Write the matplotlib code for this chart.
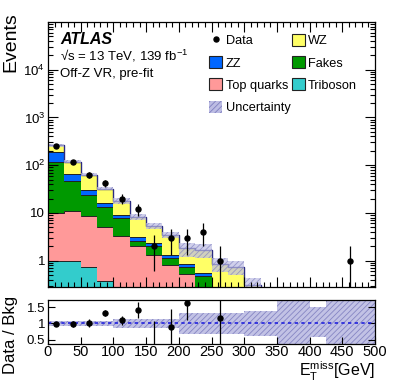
import numpy as np
import matplotlib
matplotlib.use("Agg")
import matplotlib.pyplot as plt
from matplotlib.patches import Patch
from matplotlib.lines import Line2D
from matplotlib.ticker import FixedLocator, LogLocator, FuncFormatter, NullFormatter, MultipleLocator

plt.rcParams['font.family'] = ['Liberation Sans', 'DejaVu Sans']
plt.rcParams['mathtext.fontset'] = 'custom'
plt.rcParams['mathtext.rm'] = 'Liberation Sans'
plt.rcParams['mathtext.it'] = 'Liberation Sans:italic'
plt.rcParams['hatch.linewidth'] = 0.6

# binning in MET (GeV)
edges = np.arange(0, 525, 25)

# per-process yields
triboson = [1.0, 1.0, 0.75, 0.38, 0, 0, 0, 0, 0, 0, 0, 0, 0, 0, 0, 0, 0, 0, 0, 0]
top_quarks = [9.0, 10.2, 8.05, 4.8, 3.3, 2.06, 1.34, 0.79, 0.53, 0, 0, 0, 0, 0, 0, 0, 0, 0, 0, 0]
fakes = [105, 36.3, 15.4, 7.9, 4.4, 0.54, 0.66, 0.35, 0.19, 0.47, 0, 0, 0, 0, 0, 0, 0, 0, 0, 0]
zz = [71, 18.5, 6.2, 2.8, 1.4, 0.6, 0.35, 0.2, 0.13, 0.07, 0, 0, 0, 0, 0, 0, 0, 0, 0, 0]
wz = [74, 52, 33.1, 16.1, 8.9, 5.1, 3.05, 2.16, 0.95, 1.12, 0.86, 0.74, 0.31, 0, 0, 0, 0, 0, 0, 0]

# observed data
data = [255, 118, 63, 42, 20, 12, 2, 3, 3, 4, 1, 0, 0, 0, 0, 0, 0, 0, 1, 0]
data_err = [16, 10.9, 7.9, 6.5, 4.5, 3.5, 1.4, 1.7, 1.7, 2.0, 0.999, 0, 0, 0, 0, 0, 0, 0, 0.999, 0]

# relative background uncertainty (up / down)
rel_up = [0.07, 0.07, 0.07, 0.07, 0.13, 0.13, 0.15, 0.15, 0.33, 0.33, 0.33, 0.33, 0.38, 0.38, 5, 5, 0.5, 5, 5, 5]
rel_dn = [0.07, 0.07, 0.07, 0.07, 0.13, 0.13, 0.15, 0.15, 0.33, 0.33, 0.33, 0.33, 0.38, 0.38, 5, 5, 0.42, 5, 5, 5]

# data / bkg ratio as shown in the lower panel
ratio = [0.98, 0.99, 1.01, 1.32, 1.10, 1.42, 0.2, 0.88, 1.64, np.nan, 1.16,
         np.nan, np.nan, np.nan, np.nan, np.nan, np.nan, np.nan, np.nan, np.nan]
ratio_lo = [0.06, 0.09, 0.12, 0.08, 0.14, 0.25, 0.0, 0.56, 0.54, 0, 1.16, 0, 0, 0, 0, 0, 0, 0, 0, 0]
ratio_hi = [0.06, 0.09, 0.12, 0.08, 0.14, 0.25, 0.87, 0.56, 0.54, 0, 1.16, 0, 0, 0, 0, 0, 0, 0, 0, 0]

procs = [("Triboson", triboson, "#33cccc"),
         ("Top quarks", top_quarks, "#ff9999"),
         ("Fakes", fakes, "#009900"),
         ("ZZ", zz, "#0066ff"),
         ("WZ", wz, "#ffff66")]

band_fc = "#bcbce3"
band_ec = "#7f7fc0"

W, H = 399, 385
fig = plt.figure(figsize=(W / 100, H / 100), dpi=100)
ax = fig.add_axes([48 / W, 1 - 287 / H, 327 / W, 265 / H])
axr = fig.add_axes([48 / W, 1 - 344 / H, 327 / W, 44 / H])

centers = 0.5 * (edges[:-1] + edges[1:])
widths = np.diff(edges)

# stacked histogram
bottom = np.full(len(centers), 1e-3)
for name, vals, col in procs:
    top = bottom + np.array(vals)
    ax.stairs(top, edges, baseline=bottom, fill=True, color=col, lw=0)
    ax.stairs(top, edges, baseline=None, color="#222222", lw=0.7)
    bottom = top
total = bottom - 1e-3
ax.stairs(np.where(total > 0, total, 1e-3), edges, baseline=None, color="#2b2b80", lw=1.0)

# uncertainty band
mask = total > 0
up = np.array(rel_up)
dn = np.array(rel_dn)
lo = total * (1 - np.minimum(dn, 0.999))
hi = total * (1 + up)
ax.bar(centers[mask], (hi - lo)[mask], bottom=lo[mask], width=widths[mask],
       facecolor=band_fc, edgecolor=band_ec, hatch="//////", lw=0, alpha=0.7)

# data
d = np.array(data, dtype=float)
de = np.array(data_err)
m = d > 0
ax.errorbar(centers[m], d[m], yerr=de[m], fmt="o", color="black", ms=3.6,
            elinewidth=0.9, capsize=0)

ax.set_xlim(0, 500)
ax.set_yscale("log")
ax.set_ylim(0.28, 1e5)
ax.xaxis.set_major_locator(MultipleLocator(50))
ax.xaxis.set_minor_locator(MultipleLocator(10))
ax.xaxis.set_major_formatter(NullFormatter())
ax.yaxis.set_major_locator(FixedLocator([1, 10, 100, 1000, 1e4]))
ax.yaxis.set_minor_locator(LogLocator(base=10, subs=np.arange(2, 10), numticks=20))
ax.yaxis.set_minor_formatter(NullFormatter())


def ylab(v, pos):
    if v == 1:
        return "1"
    if v == 10:
        return "10"
    return r"$10^{%d}$" % int(round(np.log10(v)))


ax.yaxis.set_major_formatter(FuncFormatter(ylab))
for a in (ax, axr):
    a.tick_params(which="both", direction="in", top=True, right=True, labelsize=9.5, width=0.8)
    a.tick_params(which="major", length=7)
    a.tick_params(which="minor", length=3.5)
    for s in a.spines.values():
        s.set_linewidth(0.9)
ax.tick_params(axis="y", which="major", pad=2)

fig.text(11 / W, 1 - 12 / H, "Events", fontsize=14, rotation=90, ha="center", va="top")

# labels
fig.text(60 / W, 1 - 44 / H, "ATLAS", fontsize=11.5, fontweight="bold", fontstyle="italic", va="baseline")
fig.text(60 / W, 1 - 60 / H, "√s = 13 TeV, 139 fb$^{-1}$", fontsize=9.5, va="baseline")
fig.text(60 / W, 1 - 77 / H, "Off-Z VR, pre-fit", fontsize=9.5, va="baseline")

handles = [Line2D([], [], marker="o", color="black", ls="none", ms=3.6),
           Patch(facecolor="#0066ff", edgecolor="#222222", lw=0.8),
           Patch(facecolor="#ff9999", edgecolor="#222222", lw=0.8),
           Patch(facecolor=band_fc, edgecolor=band_ec, hatch="//////", lw=0),
           Patch(facecolor="#ffff66", edgecolor="#222222", lw=0.8),
           Patch(facecolor="#009900", edgecolor="#222222", lw=0.8),
           Patch(facecolor="#33cccc", edgecolor="#222222", lw=0.8)]
labels = ["Data", "ZZ", "Top quarks", "Uncertainty", "WZ", "Fakes", "Triboson"]
fig.legend(handles, labels, loc="upper left", bbox_to_anchor=(209 / W, 1 - 34 / H),
           ncol=2, frameon=False, fontsize=9.2, handlelength=1.05, handleheight=1.05,
           handletextpad=0.25, labelspacing=0.7, columnspacing=0.1, borderpad=0,
           borderaxespad=0)

# ratio panel
rb_lo = 1 - dn
rb_hi = 1 + up
axr.bar(centers, rb_hi - rb_lo, bottom=rb_lo, width=widths, facecolor=band_fc,
        edgecolor=band_ec, hatch="//////", lw=0, alpha=0.9)
axr.axhline(1, color="#2222dd", ls=(0, (2, 2)), lw=1.2)
r = np.array(ratio)
rm = ~np.isnan(r)
axr.errorbar(centers[rm], r[rm], yerr=[np.array(ratio_lo)[rm], np.array(ratio_hi)[rm]],
             fmt="o", color="black", ms=3.6, elinewidth=0.9, capsize=0)
axr.set_xlim(0, 500)
axr.set_ylim(0.37, 1.72)
axr.xaxis.set_major_locator(MultipleLocator(50))
axr.xaxis.set_minor_locator(MultipleLocator(10))
axr.yaxis.set_major_locator(FixedLocator([0.5, 1, 1.5]))
axr.yaxis.set_major_formatter(FuncFormatter(lambda v, p: "%g" % v))
axr.tick_params(axis="x", which="both", top=False)
axr.tick_params(axis="x", which="major", length=5, pad=1, labelsize=10.5)
axr.tick_params(axis="x", which="minor", length=0)
axr.tick_params(axis="y", which="major", length=5, pad=2)
fig.text(375 / W, 1 - 383 / H, r"E$_{\mathrm{T}}^{\mathrm{miss}}$[GeV]", fontsize=11.5,
         ha="right", va="bottom")
fig.text(11 / W, 1 - 335 / H, "Data / Bkg", fontsize=12, rotation=90, ha="center", va="center")

fig.savefig("out.png", dpi=100)
